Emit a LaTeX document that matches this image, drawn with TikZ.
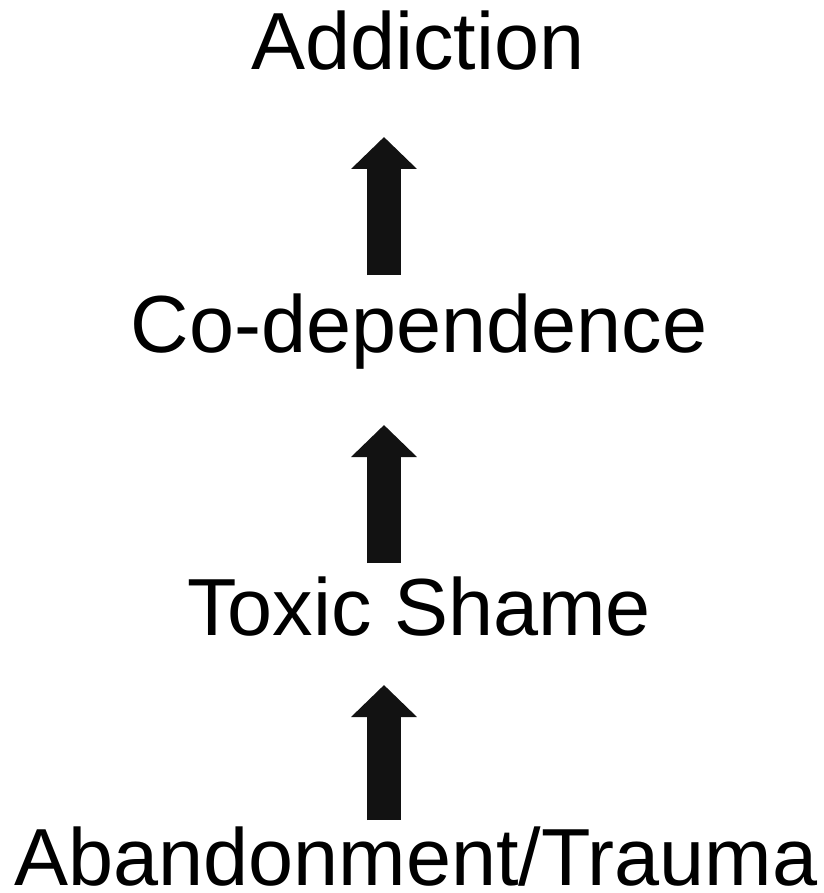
\documentclass[tikz,border=0pt]{standalone}
\usepackage{fontspec}
\setmainfont{Liberation Sans}
\usetikzlibrary{arrows.meta}
\tikzset{
  stage/.style={anchor=base, inner sep=0pt, font=\fontsize{81}{97}\selectfont},
  uparrow/.style={line width=34pt, color=black!93, -{Triangle[width=64pt,length=32pt]}}
}
\begin{document}
\begin{tikzpicture}[x=1pt,y=1pt]
                \useasboundingbox (0,0) rectangle (823,-893) ;
                \node[stage] (addiction) at (418,-70) {Addiction} ;
                \node[stage] (codep) at (419,-352) {Co-dependence} ;
                \node[stage] (shame) at (419,-635) {Toxic Shame} ;
                \node[stage] (trauma) at (416,-885) {Abandonment/Trauma} ;
                \coordinate (a1) at (384,-275) ;
                \coordinate (b1) at (384,-137) ;
                \coordinate (a2) at (384,-563) ;
                \coordinate (b2) at (384,-425) ;
                \coordinate (a3) at (384,-820) ;
                \coordinate (b3) at (384,-685) ;
                \draw [uparrow] (a1) -- (b1) ;
                \draw [uparrow] (a2) -- (b2) ;
                \draw [uparrow] (a3) -- (b3) ;
\end{tikzpicture}
\end{document}
